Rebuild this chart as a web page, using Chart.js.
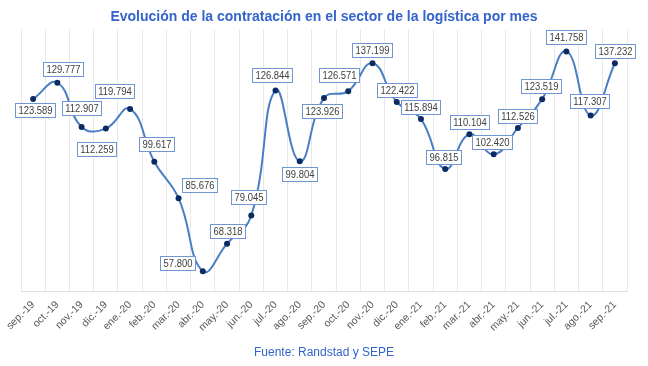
<!DOCTYPE html>
<html>
<head>
<meta charset="utf-8">
<script src="https://cdn.jsdelivr.net/npm/chart.js@4.4.1/dist/chart.umd.min.js"></script>
<style>
  html, body { margin: 0; padding: 0; background: #fff; }
  #wrap { width: 648px; height: 366px; position: relative; }
</style>
</head>
<body>
<div id="wrap"><canvas id="chart" width="648" height="366"></canvas></div>
<script>
const months = [
  "sep.-19", "oct.-19", "nov.-19", "dic.-19", "ene.-20", "feb.-20", "mar.-20",
  "abr.-20", "may.-20", "jun.-20", "jul.-20", "ago.-20", "sep.-20", "oct.-20",
  "nov.-20", "dic.-20", "ene.-21", "feb.-21", "mar.-21", "abr.-21", "may.-21",
  "jun.-21", "jul.-21", "ago.-21", "sep.-21"
];
const hires = [
  123589, 129777, 112907, 112259, 119794, 99617, 85676,
  57800, 68318, 79045, 126844, 99804, 123926, 126571,
  137199, 122422, 115894, 96815, 110104, 102420, 112526,
  123519, 141758, 117307, 137232
];

// where each value box sits relative to its point (dx, dy)
const labelOffsets = [
  [2, 11], [6, -14], [0, -19], [-9, 20], [-16, -18], [2, -18], [21, -13],
  [-25, -8], [0, -13], [-3, -19], [-4, -15], [0, 13], [-2, 13], [-9, -16],
  [0, -13], [0, -12], [0, -12], [-2, -12], [0, -12], [-2, -12], [0, -12],
  [-1, -13], [0, -14], [-1, -14], [0, -12]
];

function fmt(v) {
  return String(v).replace(/\B(?=(\d{3})+(?!\d))/g, ".");
}

const valueBoxes = {
  id: "valueBoxes",
  afterDatasetsDraw(chart) {
    const ctx = chart.ctx;
    const meta = chart.getDatasetMeta(0);
    const squeeze = 0.82;
    ctx.save();
    ctx.font = "11.5px 'Liberation Sans', Arial, sans-serif";
    ctx.textAlign = "center";
    ctx.textBaseline = "middle";
    meta.data.forEach((pt, i) => {
      const txt = fmt(hires[i]);
      const w = Math.round(ctx.measureText(txt).width * squeeze) + 6;
      const h = 14;
      const cx = pt.x + labelOffsets[i][0];
      const cy = pt.y + labelOffsets[i][1];
      const x0 = Math.round(cx - w / 2) + 0.5;
      const y0 = Math.round(cy - h / 2) + 0.5;
      ctx.fillStyle = "#fff";
      ctx.fillRect(x0, y0, w, h);
      ctx.strokeStyle = "#6f95d2";
      ctx.lineWidth = 1;
      ctx.strokeRect(x0, y0, w, h);
      ctx.fillStyle = "#404040";
      ctx.save();
      ctx.translate(x0 + w / 2, y0 + h / 2 + 0.5);
      ctx.scale(squeeze, 1);
      ctx.fillText(txt, 0, 0);
      ctx.restore();
    });
    ctx.restore();
  }
};

new Chart(document.getElementById("chart"), {
  type: "line",
  data: {
    labels: months,
    datasets: [{
      data: hires,
      borderColor: "#4a7ec4",
      borderWidth: 2,
      tension: 0.45,
      pointRadius: 3,
      pointBackgroundColor: "#0d2b63",
      pointBorderColor: "#0d2b63",
      pointBorderWidth: 0,
      fill: false,
      clip: false
    }]
  },
  options: {
    responsive: false,
    animation: false,
    layout: { padding: { left: 21, right: 21, top: 0, bottom: 0 } },
    plugins: {
      legend: { display: false },
      tooltip: { enabled: false },
      title: {
        display: true,
        text: "Evolución de la contratación en el sector de la logística por mes",
        color: "#3264cc",
        font: { family: "'Liberation Sans', Arial, sans-serif", size: 14, weight: "bold" },
        padding: { top: 9, bottom: 4 }
      },
      subtitle: {
        display: true,
        position: "bottom",
        text: "Fuente: Randstad y SEPE",
        color: "#3264cc",
        font: { family: "'Liberation Sans', Arial, sans-serif", size: 12 },
        padding: { top: 0, bottom: 6 }
      }
    },
    scales: {
      y: {
        display: false,
        min: 50000,
        max: 150000
      },
      x: {
        offset: true,
        afterFit(scale) { scale.height = 54; },
        grid: { offset: true, color: "#e8e8e8", drawTicks: false },
        border: { color: "#e0e0e0" },
        ticks: {
          color: "#595959",
          font: { family: "'Liberation Sans', Arial, sans-serif", size: 10.5 },
          minRotation: 45,
          maxRotation: 45,
          autoSkip: false,
          padding: 7
        }
      }
    }
  },
  plugins: [valueBoxes]
});
</script>
</body>
</html>
